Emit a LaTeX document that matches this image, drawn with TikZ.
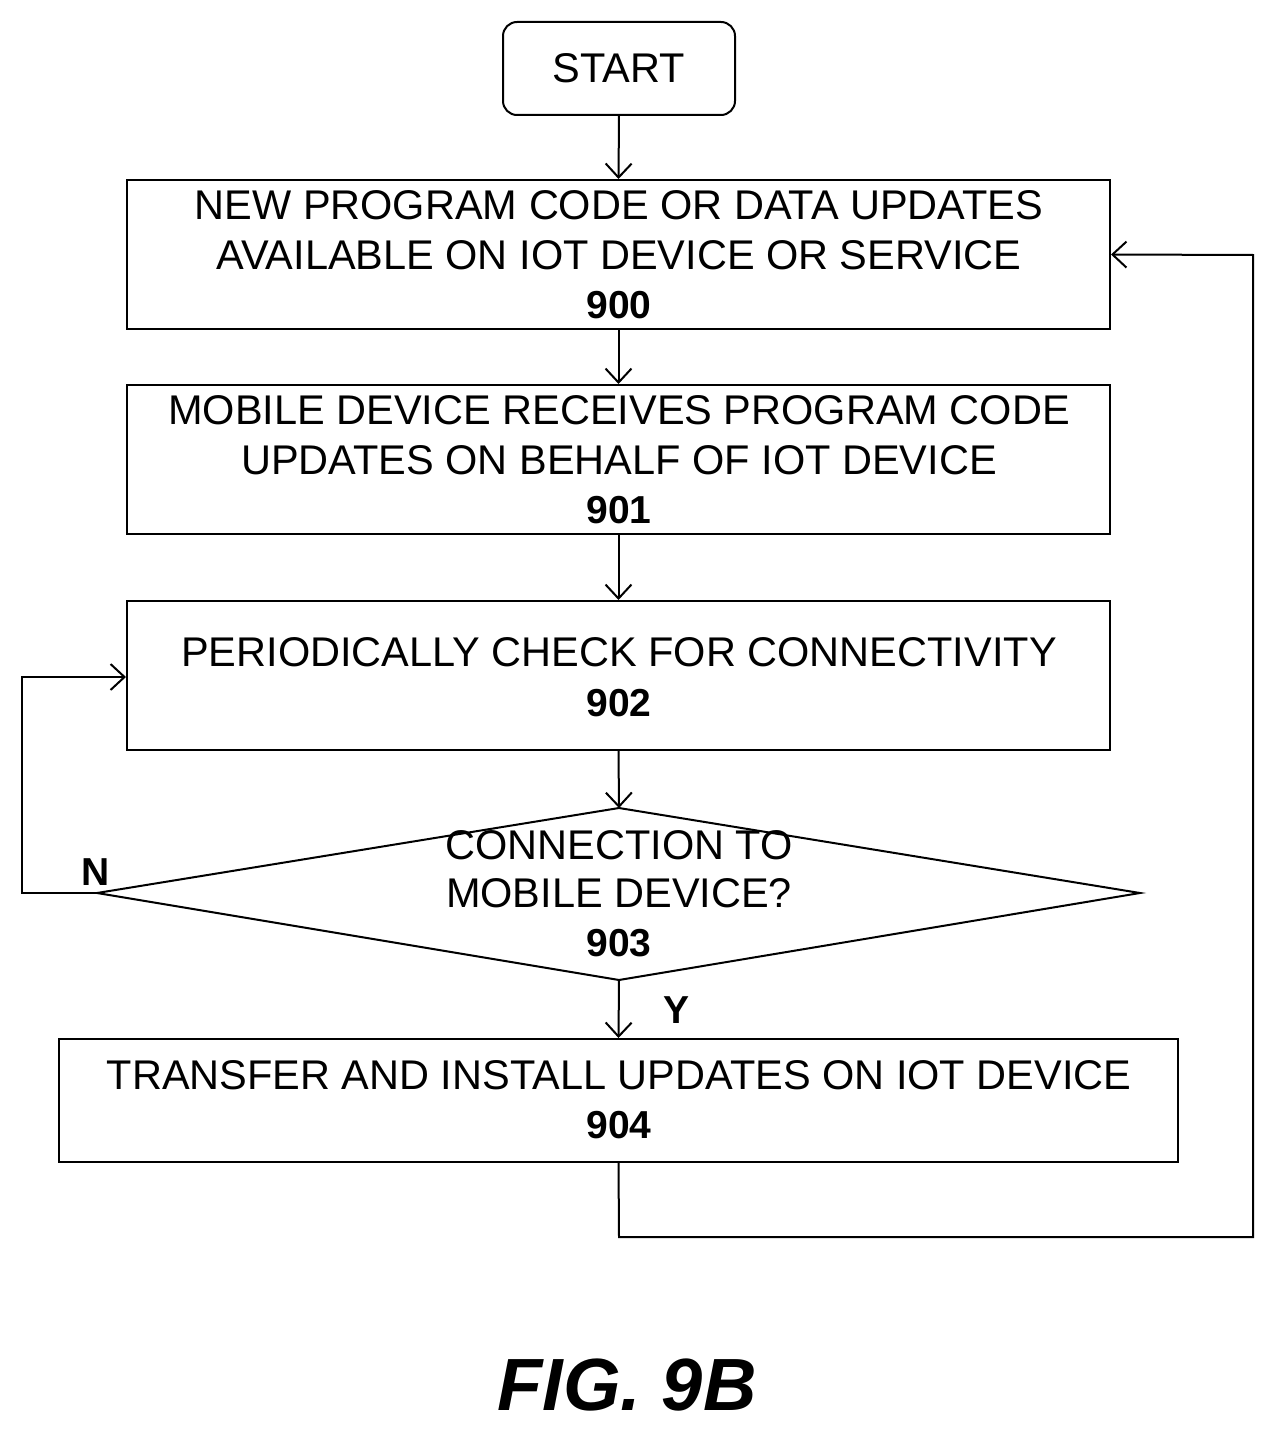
\documentclass[tikz,border=0pt]{standalone}
\usepackage{fontspec}
\setmainfont{Liberation Sans}
\usetikzlibrary{arrows.meta}
\begin{document}
\begin{tikzpicture}[x=1pt,y=-1pt,
  box/.style={draw,line width=2pt},
  txt/.style={font=\fontsize{41.5}{48}\selectfont,anchor=center,inner sep=0pt},
  num/.style={font=\fontsize{39}{46}\selectfont\bfseries,anchor=center,inner sep=0pt},
  arr/.style={line width=2pt,-{Straight Barb[length=14pt,width=26pt,line width=2pt]}},
  ln/.style={line width=2pt}]
\useasboundingbox (0,0) rectangle (1276,1434);
\draw[box,rounded corners=14pt] (503,22) rectangle (735,115);
\node[txt] (start) at (619,68) {START};
\coordinate (sb) at (619,115);
\node[draw,line width=2pt,minimum width=983pt,minimum height=149pt,inner sep=0pt] (b900) at (618.5,254.5) {};
\node[txt] at (619,205) {NEW PROGRAM CODE OR DATA UPDATES};
\node[txt] at (619,255) {AVAILABLE ON IOT DEVICE OR SERVICE};
\node[num] at (619,305) {900};
\node[draw,line width=2pt,minimum width=983pt,minimum height=149pt,inner sep=0pt] (b901) at (618.5,459.5) {};
\node[txt] at (619,410) {MOBILE DEVICE RECEIVES PROGRAM CODE};
\node[txt] at (619,460) {UPDATES ON BEHALF OF IOT DEVICE};
\node[num] at (619,510) {901};
\node[draw,line width=2pt,minimum width=983pt,minimum height=149pt,inner sep=0pt] (b902) at (618.5,675.5) {};
\node[txt] at (619,652) {PERIODICALLY CHECK FOR CONNECTIVITY};
\node[num] at (619,703) {902};
\coordinate (dt) at (619,808);
\coordinate (dl) at (97,893);
\coordinate (dr) at (1140,893);
\coordinate (db) at (619,980);
\draw[ln] (dt) -- (dr) -- (db) -- (dl) -- cycle;
\node[txt] at (619,845) {CONNECTION TO};
\node[txt] at (619,893) {MOBILE DEVICE?};
\node[num] at (619,943) {903};
\node[draw,line width=2pt,minimum width=1119pt,minimum height=123pt,inner sep=0pt] (b904) at (618.5,1100.5) {};
\node[txt] at (619,1075) {TRANSFER AND INSTALL UPDATES ON IOT DEVICE};
\node[num] at (619,1125) {904};
\draw[arr] (sb) -- (b900.north);
\draw[arr] (b900.south) -- (b901.north);
\draw[arr] (b901.south) -- (b902.north);
\draw[arr] (b902.south) -- (dt);
\draw[arr] (db) -- (b904.north);
\node[num] (y) at (676,1010) {Y};
\node[num] (n) at (96,872) {N};
\draw[arr] (dl) -- (22,893) -- (22,677) -- (b902.west |- 0,677);
\draw[arr] (b904.south) -- (619,1237) -- (1253,1237) -- (1253,255) -- (b900.east);
\node[font=\fontsize{74}{86}\selectfont\bfseries\itshape,inner sep=0pt] (fig) at (627,1385) {FIG. 9B};
\end{tikzpicture}
\end{document}
